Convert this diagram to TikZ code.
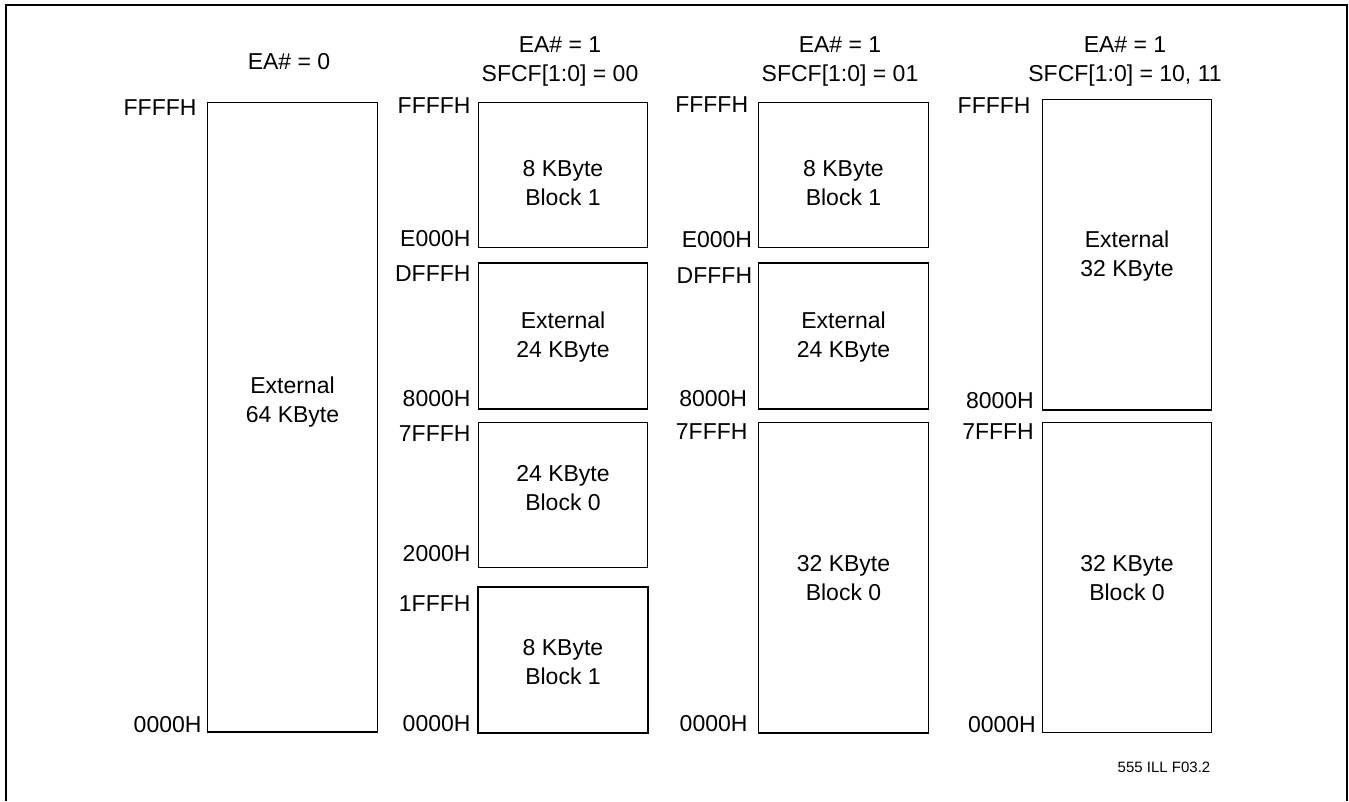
\documentclass[tikz,border=0pt]{standalone}
\usepackage{fontspec}
\setmainfont{Liberation Sans}

\begin{document}
\begin{tikzpicture}[x=1pt,y=-1pt,
  lbl/.style={font=\fontsize{23}{29}\selectfont,inner sep=0pt},
  addr/.style={lbl,anchor=base east},
  txt/.style={lbl,align=center},
  blk/.style={line width=1.3pt}]
\useasboundingbox (0,0) rectangle (1349,801);
\draw[line width=2pt] (6,801) -- (6,4.7) -- (1346.7,4.7) -- (1346.7,801);
% EA# = 0
\node[txt] (hd1) at (289,61.3) {EA\# = 0};
\draw[blk] (207.7,102.7) rectangle (377.7,732);
\node[txt] (ext64) at (292.5,402.5) {External\\64 KByte};
\node[addr] (c1top) at (196.7,115) {FFFFH};
\node[addr] (c1bot) at (201.7,732.5) {0000H};
% EA# = 1, SFCF = 00
\node[txt] (hd2) at (560,61.5) {EA\# = 1\\SFCF[1:0] = 00};
\draw[blk] (478.3,102.7) rectangle (647.7,247.7);
\draw[blk] (478.3,263) rectangle (647.7,409);
\draw[blk] (478.3,422.7) rectangle (647.7,567.5);
\draw[line width=2.2pt] (478.3,587.3) rectangle (647.7,732.7);
\node[txt] (c2b1) at (563,183.3) {8 KByte\\Block 1};
\node[txt] (c2ext) at (563,337.5) {External\\24 KByte};
\node[txt] (c2b0) at (563,488.3) {24 KByte\\Block 0};
\node[txt] (c2b1l) at (563,661.7) {8 KByte\\Block 1};
\node[addr] (c2a) at (470.7,113.5) {FFFFH};
\node[addr] (c2b) at (470.7,246.7) {E000H};
\node[addr] (c2c) at (470.7,281.7) {DFFFH};
\node[addr] (c2d) at (470.7,406.7) {8000H};
\node[addr] (c2e) at (470.7,441) {7FFFH};
\node[addr] (c2f) at (470.7,561.7) {2000H};
\node[addr] (c2g) at (470.7,611) {1FFFH};
\node[addr] (c2h) at (470.7,731.7) {0000H};
% EA# = 1, SFCF = 01
\node[txt] (hd3) at (840,61.5) {EA\# = 1\\SFCF[1:0] = 01};
\draw[blk] (758.7,102.7) rectangle (928.3,247.7);
\draw[blk] (758.7,263) rectangle (928.3,409);
\draw[blk] (758.7,422.3) rectangle (928.3,733);
\node[txt] (c3b1) at (843.5,183.3) {8 KByte\\Block 1};
\node[txt] (c3ext) at (843.5,337.5) {External\\24 KByte};
\node[txt] (c3b0) at (843.5,578) {32 KByte\\Block 0};
\node[addr] (c3a) at (748.3,112.3) {FFFFH};
\node[addr] (c3b) at (752.3,247) {E000H};
\node[addr] (c3c) at (752.3,283) {DFFFH};
\node[addr] (c3d) at (747.3,406) {8000H};
\node[addr] (c3e) at (747.7,439) {7FFFH};
\node[addr] (c3f) at (747.7,731.7) {0000H};
% EA# = 1, SFCF = 10, 11
\node[txt] (hd4) at (1125,61.5) {EA\# = 1\\SFCF[1:0] = 10, 11};
\draw[blk] (1042.3,99.7) rectangle (1211.7,410);
\draw[blk] (1042.3,422.3) rectangle (1211.7,732.7);
\node[txt] (c4ext) at (1127,256) {External\\32 KByte};
\node[txt] (c4b0) at (1127,578) {32 KByte\\Block 0};
\node[addr] (c4a) at (1030.7,113.3) {FFFFH};
\node[addr] (c4b) at (1034,408.3) {8000H};
\node[addr] (c4c) at (1034,439) {7FFFH};
\node[addr] (c4d) at (1036,732) {0000H};
\node[font=\fontsize{15}{17}\selectfont,inner sep=0pt] (figid) at (1164,767) {555 ILL F03.2};
\end{tikzpicture}
\end{document}
